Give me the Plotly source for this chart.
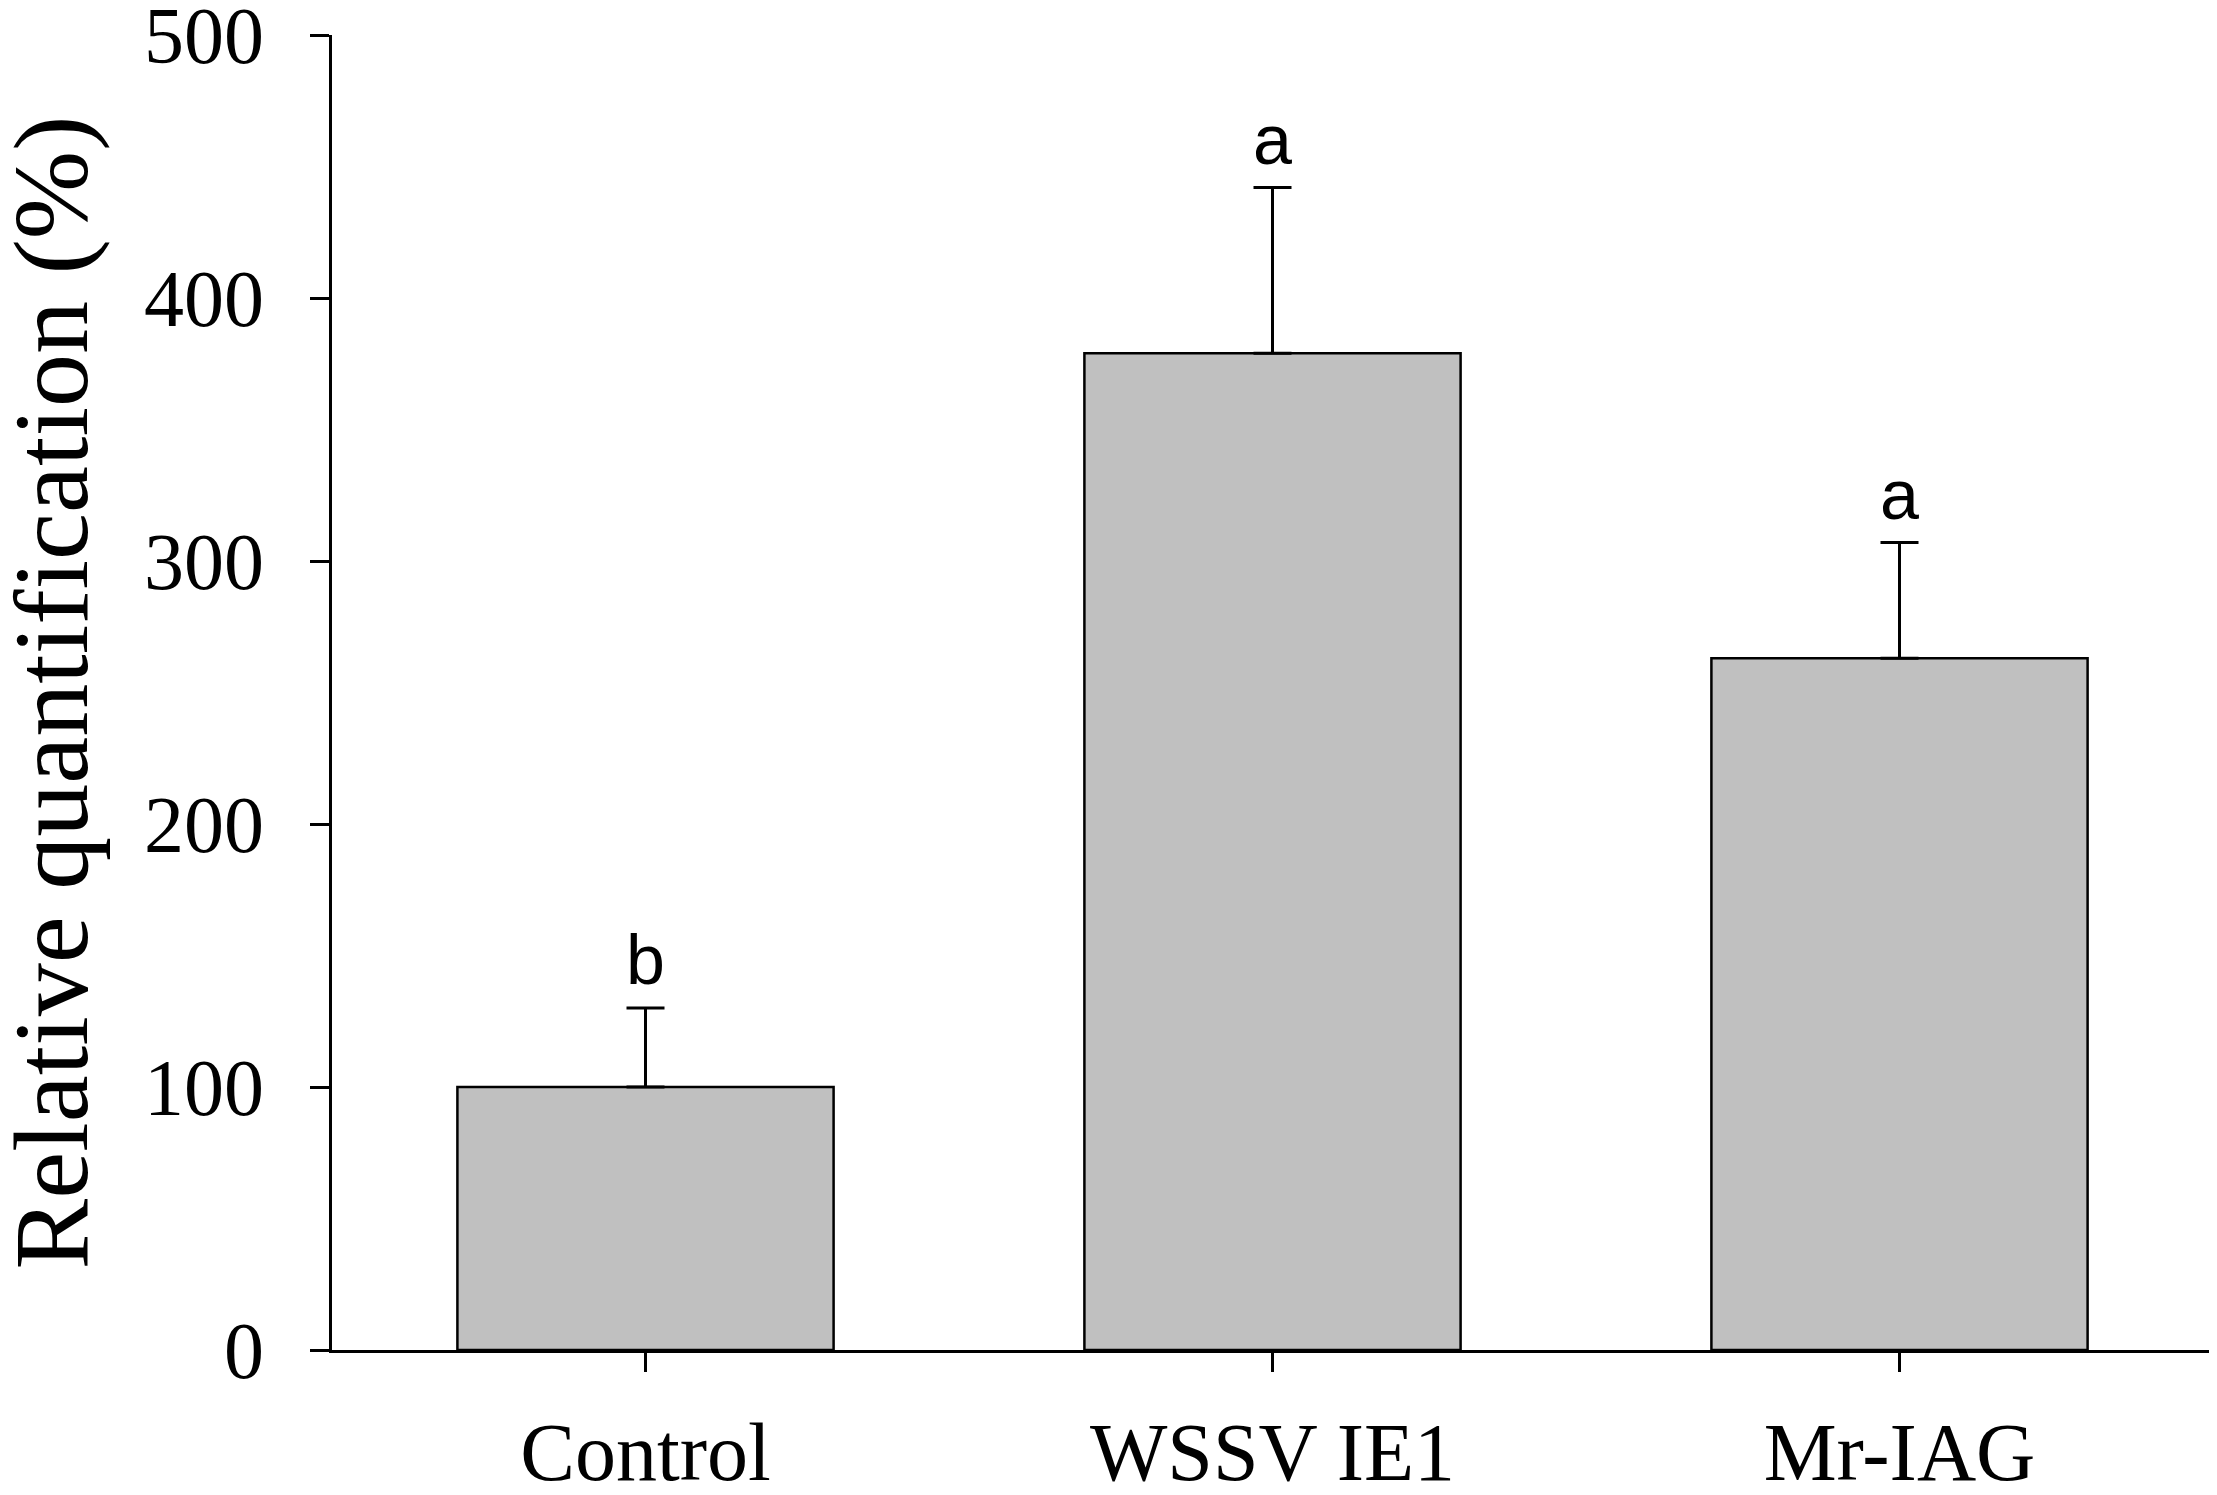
import plotly.graph_objects as go

# Data
groups = ['Control', 'WSSV IE1', 'Mr-IAG']
rel_quant = [100, 379, 263]
sem = [30, 63, 44]
letters = ['b', 'a', 'a']
y_ticks = [0, 100, 200, 300, 400, 500]
y_title = 'Relative quantification (%)'

fig = go.Figure()

# grey bars with one-sided (upper) error bars
fig.add_trace(go.Bar(
    x=groups, y=rel_quant, width=0.6,
    marker=dict(color='#c0c0c0', line=dict(color='black', width=2.5)),
    error_y=dict(type='data', symmetric=False, array=sem, arrayminus=[0] * len(sem),
                 color='black', thickness=3, width=19),
    showlegend=False,
))

# significance letters above error bars
for g, v, e, t in zip(groups, rel_quant, sem, letters):
    fig.add_annotation(x=g, y=v + e, text=t, showarrow=False, yanchor='bottom', yshift=7,
                       font=dict(family='Liberation Sans, Arial', size=70, color='black'))

# y axis title as a rotated annotation (standoff is ignored without automargin)
fig.add_annotation(x=0, y=0.5, xref='paper', yref='paper', text=y_title, textangle=-90,
                   showarrow=False, xanchor='center', yanchor='middle', xshift=-281,
                   font=dict(size=106, color='black'))

# page body has an 8px margin, so the figure is a bit smaller than the window
fig.update_layout(
    width=2209, height=1487,
    margin=dict(l=324, r=4, t=27, b=145),
    plot_bgcolor='white', paper_bgcolor='white',
    font=dict(family='Liberation Serif, Times New Roman', color='black'),
    bargap=0.4,
)

fig.update_xaxes(
    range=[-0.5, 2.5], showline=True, linecolor='black', linewidth=3,
    ticks='outside', ticklen=19, tickwidth=3, tickcolor='black',
    tickfont=dict(size=82), ticklabelstandoff=10, showgrid=False, zeroline=False,
    automargin=False,
)
fig.update_yaxes(
    range=[0, 500], tickvals=y_ticks, showline=True, linecolor='black', linewidth=3,
    ticks='outside', ticklen=19, tickwidth=3, tickcolor='black',
    tickfont=dict(size=80), ticklabelstandoff=30, ticklabeloverflow='allow',
    showgrid=False, zeroline=False, automargin=False,
)

fig.write_html("out.html")
